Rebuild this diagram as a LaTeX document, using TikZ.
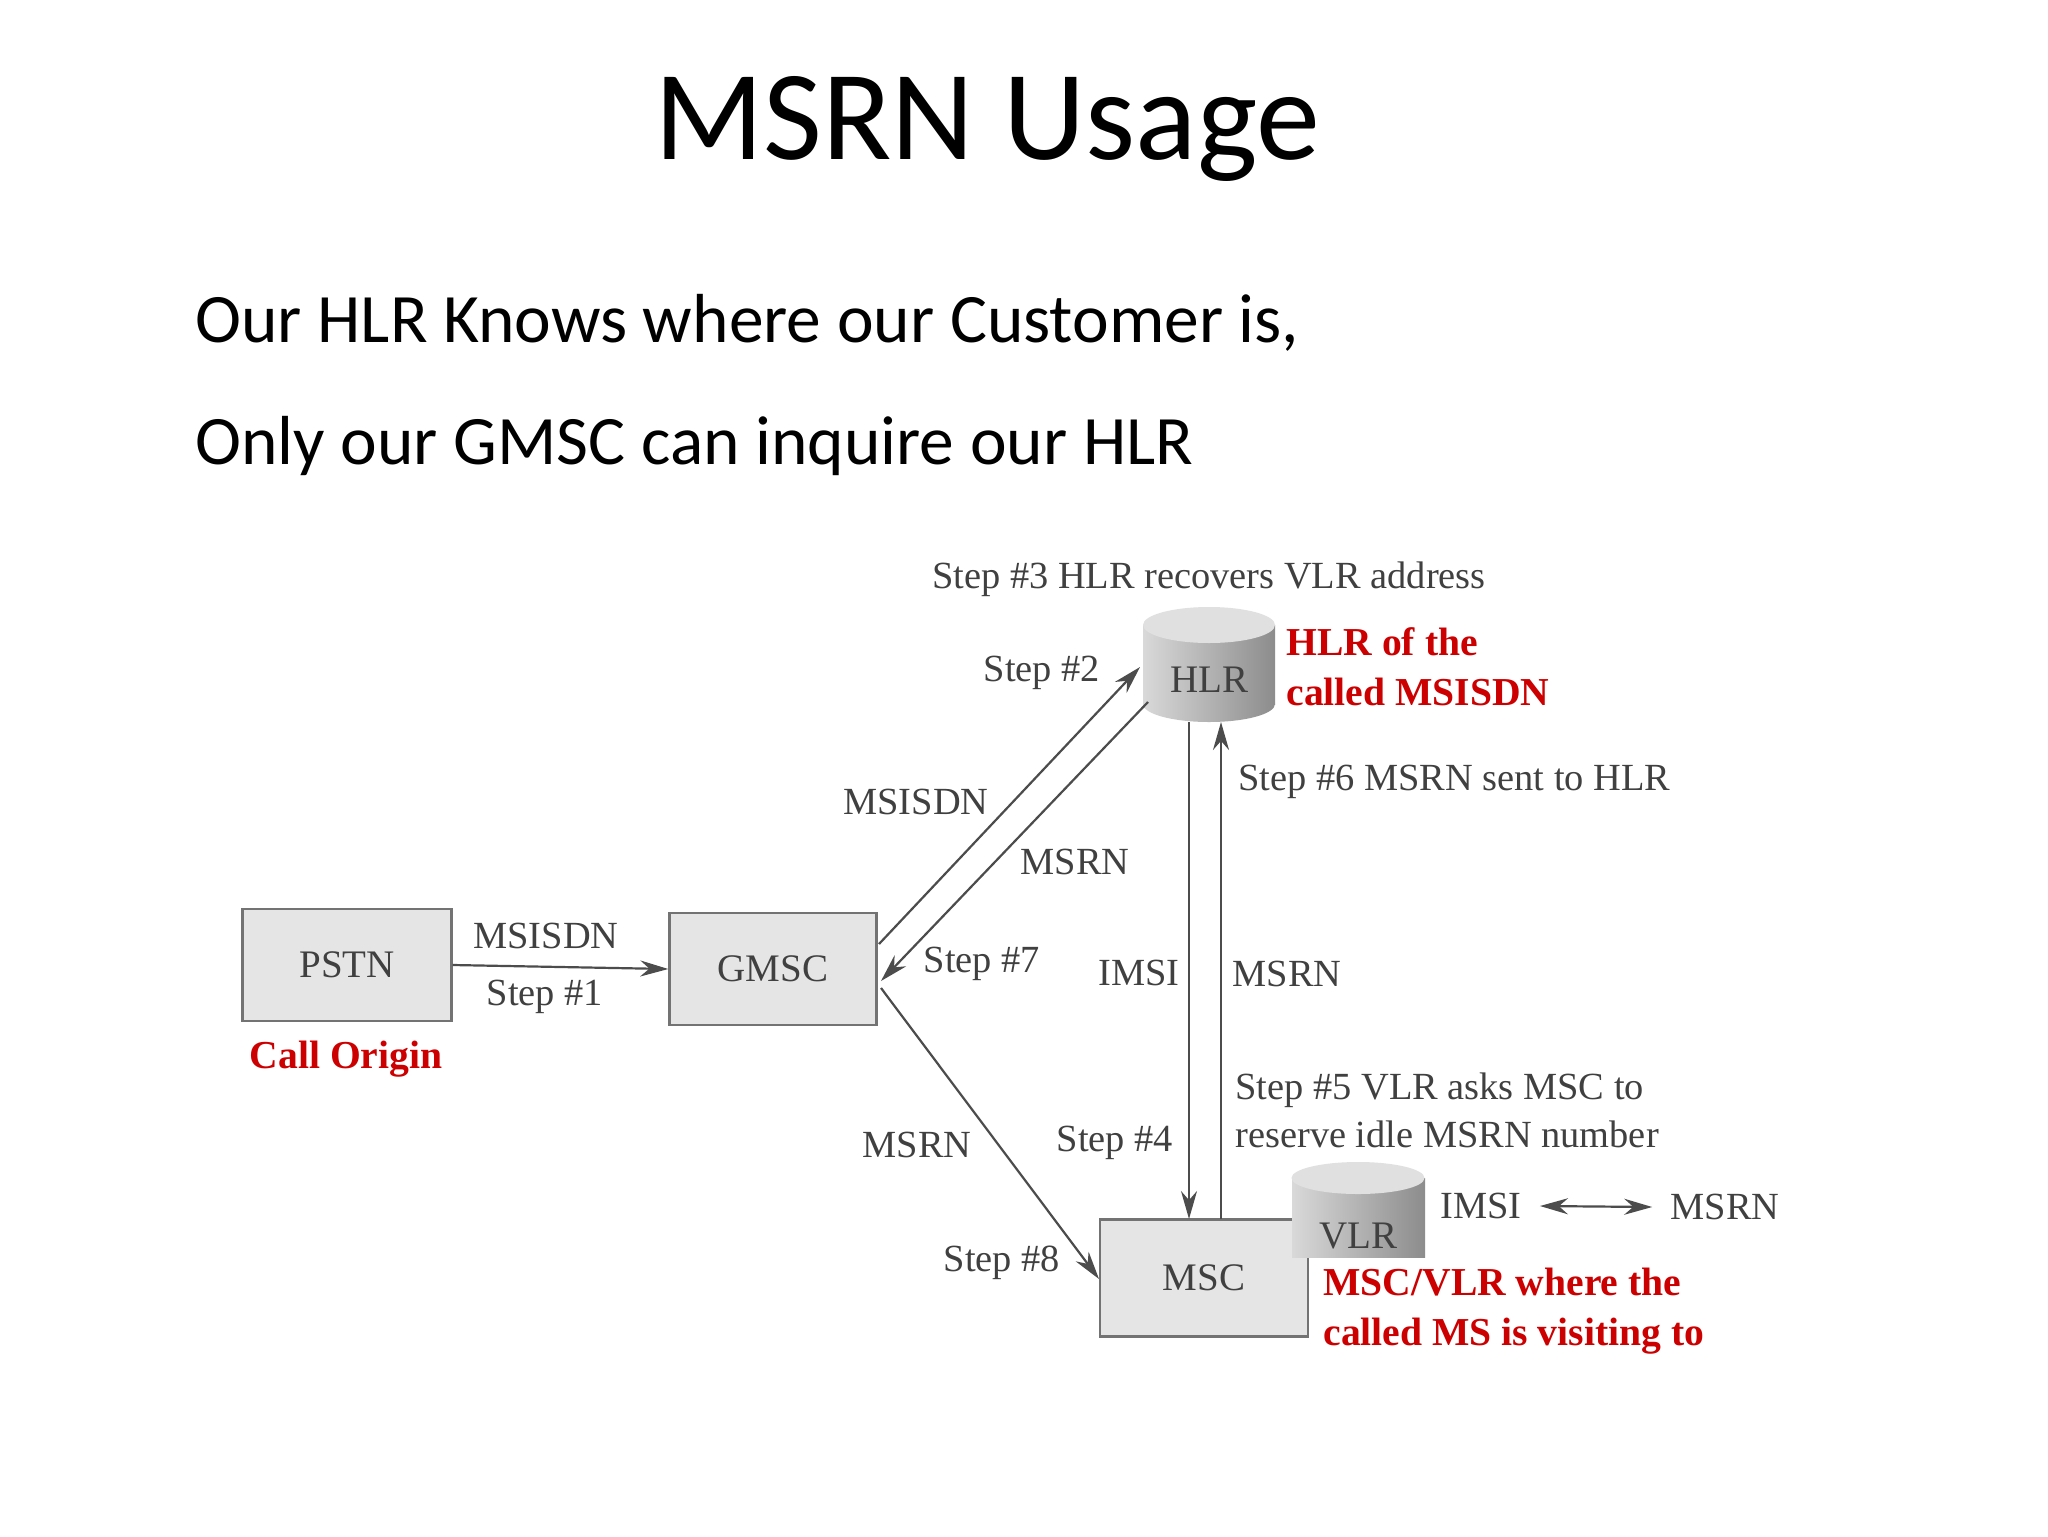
\documentclass[tikz,border=0pt]{standalone}
\usepackage{fontspec}
\usetikzlibrary{arrows.meta,calc}
\setmainfont{Liberation Serif}
\newfontfamily\calib{Carlito}
\begin{document}
\begin{tikzpicture}[x=0.5pt,y=-0.5pt,
  lbl/.style={font=\fontsize{19.2}{22}\selectfont, text=black!75, inner sep=0},
  red/.style={font=\fontsize{19.8}{25}\selectfont\bfseries, text=red!80!black, inner sep=0, align=left},
  box/.style={draw=black!55, line width=1.2pt, fill=black!10, inner sep=0, font=\fontsize{19.5}{22}\selectfont, text=black!75},
  arr/.style={draw=black!70, line width=1.1pt, -{Stealth[length=14pt,width=8pt]}},
  cyl/.style={inner sep=0, font=\fontsize{19.5}{22}\selectfont, text=black!75}]
\useasboundingbox (0,0) rectangle (2048,1536);
\fill[white] (0,0) rectangle (2048,1536);
% title and text
\node[font=\calib\fontsize{64}{74}\selectfont] (title) at (987,129) {MSRN Usage};
\node[font=\calib\fontsize{34.7}{42}\selectfont, anchor=base west, inner sep=0] (l1) at (195,342) {Our HLR Knows where our Customer is,};
\node[font=\calib\fontsize{34.7}{42}\selectfont, anchor=base west, inner sep=0] (l2) at (195,464) {Only our GMSC can inquire our HLR};
% boxes
\node[box, minimum width=104.5pt, minimum height=56pt] (pstn) at (347,965) {PSTN};
\node[box, minimum width=103.5pt, minimum height=56pt] (gmsc) at (773,969) {GMSC};
\node[box, minimum width=104pt, minimum height=58.5pt] (msc) at (1204,1278) {MSC};
% HLR cylinder
\shade[left color=black!15, right color=black!45] (1209,704) ellipse [x radius=66, y radius=18];
\shade[left color=black!15, right color=black!45] (1143,625) rectangle (1275,704);
\fill[black!12] (1209,625) ellipse [x radius=66, y radius=18];
\node[cyl] (hlr) at (1209,680) {HLR};
% VLR cylinder
\shade[left color=black!15, right color=black!45] (1292,1178) rectangle (1425,1257);
\fill[black!12] (1358,1178) ellipse [x radius=66.5, y radius=16];
\node[cyl] (vlr) at (1358,1236) {VLR};
% connection coordinates
\coordinate (g1) at (879,944); \coordinate (h1) at (1140,667);
\coordinate (h2) at (1148,702); \coordinate (g2) at (881,981);
\coordinate (g3) at (881,988); \coordinate (m3) at (1099,1279);
\coordinate (h4) at (1189,722); \coordinate (m4) at (1189,1219);
\coordinate (m5) at (1221,1219); \coordinate (h5) at (1221,722);
\draw[arr] (pstn.east) -- (gmsc.west);
\draw[arr] (g1) -- (h1);
\draw[arr] (h2) -- (g2);
\draw[arr] (g3) -- (m3);
\draw[arr] (h4) -- (m4);
\draw[arr] (m5) -- (h5);
% labels
\node[lbl] (s3) at (1209,579) {Step \#3 HLR recovers VLR address};
\node[lbl] (s2) at (1042,673) {Step \#2};
\node[red, anchor=north west] (hlrof) at (1286,627) {HLR of the\\called MSISDN};
\node[lbl, anchor=west] (s6) at (1238,782) {Step \#6 MSRN sent to HLR};
\node[lbl] (ms1) at (916,802) {MSISDN};
\node[lbl] (mr1) at (1075,862) {MSRN};
\node[lbl] (ms0) at (546,936) {MSISDN};
\node[lbl] (s1) at (545,997) {Step \#1};
\node[red, font=\fontsize{19.8}{24}\selectfont\bfseries] (co) at (346,1059) {Call Origin};
\node[lbl] (s7) at (982,964) {Step \#7};
\node[lbl] (im1) at (1139,973) {IMSI};
\node[lbl] (mr2) at (1287,974) {MSRN};
\node[lbl, anchor=north west, align=left, font=\fontsize{19.2}{24}\selectfont] (s5) at (1235,1072) {Step \#5 VLR asks MSC to\\reserve idle MSRN number};
\node[lbl] (mr3) at (917,1145) {MSRN};
\node[lbl] (s4) at (1115,1143) {Step \#4};
\node[lbl] (im2) at (1481,1206) {IMSI};
\node[lbl] (mr4) at (1725,1207) {MSRN};
\draw[draw=black!70, line width=1.1pt, {Stealth[length=14pt,width=8pt]}-{Stealth[length=14pt,width=8pt]}] ($(im2.east)+(18,0)$) -- ($(mr4.west)+(-18,0)$);
\node[lbl] (s8) at (1002,1263) {Step \#8};
\node[red, anchor=north west] (mscvlr) at (1323,1268) {MSC/VLR where the\\called MS is visiting to};
\end{tikzpicture}
\end{document}
